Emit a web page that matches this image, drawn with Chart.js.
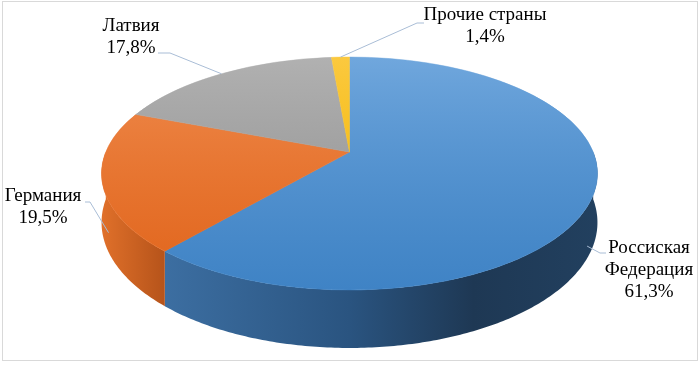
<!DOCTYPE html>
<html><head><meta charset="utf-8">
<script src="https://cdn.jsdelivr.net/npm/chart.js@4/dist/chart.umd.min.js"></script>
<style>html,body{margin:0;padding:0;background:#fff;overflow:hidden}#wrap{position:relative;width:699px;height:365px}</style>
</head><body><div id="wrap"><canvas id="c" width="699" height="365"></canvas></div>
<script>
// ---- data ----
const categories = ['Россиская Федерация', 'Германия', 'Латвия', 'Прочие страны'];
const labelLines = [['Россиская', 'Федерация'], ['Германия'], ['Латвия'], ['Прочие страны']];
const shares = [61.3, 19.5, 17.8, 1.4];
const shareLabels = ['61,3%', '19,5%', '17,8%', '1,4%'];

// ---- styles ----
const topColors = [['#70a7dd', '#3f83c5'], ['#f08d50', '#e1651c'], ['#b1b1b1', '#929292'], ['#fbc93f', '#f2b500']];
const sideStops = [
  [[0, '#4276aa'], [0.13, '#3c6ea1'], [0.5, '#2a5480'], [0.75, '#1e3854'], [1, '#22405f']],
  [[0, '#e0702a'], [0.13, '#b5531a'], [1, '#b5531a']],
  [[0, '#7a7a7a'], [1, '#7a7a7a']],
  [[0, '#c79000'], [1, '#c79000']]
];
// perspective geometry of the 3D pie (screen px)
const GEO = { cx: 349.5, cy: 152, p: 112.5, q: -0.1845, r: 243.7, d: 47.3 };
const labelCfg = [
  { x: 649, y: 248, elbow: [[606, 253], [600, 253]], side: true },
  { x: 43, y: 196, elbow: [[85, 202], [90, 202]], side: true },
  { x: 131, y: 26, elbow: [[158, 53], [170, 53]], side: false },
  { x: 485, y: 15, elbow: [[424, 23], [417, 23]], side: false }
];
const LINE_H = 21.8;

function proj(u, v) {
  const k = 1 / (1 + GEO.q * v);
  return { x: GEO.cx + GEO.r * u * k, y: GEO.cy + GEO.p * v * k, k };
}
function localGeom(chart) {
  const a = chart.chartArea;
  return { x0: (a.left + a.right) / 2, y0: (a.top + a.bottom) / 2, r0: Math.min(a.right - a.left, a.bottom - a.top) / 2 };
}

const pie3d = {
  id: 'pie3d',
  beforeDatasetsDraw(chart) {
    const ctx = chart.ctx;
    const meta = chart.getDatasetMeta(0);
    // side walls
    meta.data.forEach((arc, i) => {
      const a1 = Math.max(arc.startAngle, 0), a2 = Math.min(arc.endAngle, Math.PI);
      if (a2 <= a1) return;
      const n = Math.max(8, Math.ceil((a2 - a1) * 80));
      const top = [], bot = [];
      for (let j = 0; j <= n; j++) {
        const a = a1 + (a2 - a1) * j / n;
        const P = proj(Math.cos(a), Math.sin(a));
        top.push([P.x, P.y]);
        bot.push([P.x, P.y + GEO.d * P.k]);
      }
      const g = ctx.createLinearGradient(GEO.cx - 248, 0, GEO.cx + 248, 0);
      sideStops[i].forEach(([s, c]) => g.addColorStop(s, c));
      ctx.save();
      ctx.beginPath();
      top.forEach((pt, j) => j ? ctx.lineTo(pt[0], pt[1]) : ctx.moveTo(pt[0], pt[1]));
      for (let j = bot.length - 1; j >= 0; j--) ctx.lineTo(bot[j][0], bot[j][1]);
      ctx.closePath();
      ctx.fillStyle = g;
      ctx.fill();
      ctx.restore();
    });
    // top face: library arcs drawn row by row with a perspective-approximating transform
    const arc0 = meta.data[0];
    const x0 = arc0.x, y0 = arc0.y, R0 = arc0.outerRadius;
    const yTop = Math.floor(GEO.cy - GEO.p / (1 - GEO.q)) - 1;
    const yBot = Math.ceil(GEO.cy + GEO.p / (1 + GEO.q)) + 1;
    for (let Y = yTop; Y <= yBot; Y++) {
      const t = Y + 0.5 - GEO.cy;
      let v = t / (GEO.p - GEO.q * t);
      v = Math.max(-1, Math.min(1, v));
      const k = 1 / (1 + GEO.q * v);
      const sx = GEO.r * k / R0;
      const sy = GEO.p * k * k / R0;
      const Yc = GEO.cy + GEO.p * v * k;
      ctx.save();
      ctx.setTransform(1, 0, 0, 1, 0, 0);
      ctx.beginPath();
      ctx.rect(0, Y, chart.width, 1);
      ctx.clip();
      ctx.setTransform(sx, 0, 0, sy, GEO.cx - sx * x0, Yc - sy * (y0 + v * R0));
      meta.data.forEach(a => a.draw(ctx));
      ctx.restore();
    }
    return false;
  },
  afterDraw(chart) {
    const ctx = chart.ctx;
    const meta = chart.getDatasetMeta(0);
    ctx.save();
    ctx.setTransform(1, 0, 0, 1, 0, 0);
    ctx.strokeStyle = '#d9d9d9';
    ctx.lineWidth = 1;
    ctx.strokeRect(2.5, 1.5, 695, 359);
    meta.data.forEach((arc, i) => {
      const mid = (arc.startAngle + arc.endAngle) / 2;
      const cfg = labelCfg[i];
      const f = cfg.side ? 0.975 : 1;
      const P = proj(Math.cos(mid) * f, Math.sin(mid) * f);
      const px = P.x, py = P.y + (cfg.side ? GEO.d * P.k + 3 : 0);
      ctx.strokeStyle = '#a9bdd6';
      ctx.lineWidth = 1;
      ctx.beginPath();
      ctx.moveTo(cfg.elbow[0][0], cfg.elbow[0][1]);
      ctx.lineTo(cfg.elbow[1][0], cfg.elbow[1][1]);
      ctx.lineTo(px, py);
      ctx.stroke();
      const lines = labelLines[i].concat([shareLabels[i]]);
      ctx.fillStyle = '#000';
      ctx.font = '19px "Liberation Serif", "Times New Roman", serif';
      ctx.textAlign = 'center';
      ctx.textBaseline = 'middle';
      lines.forEach((t, k) => ctx.fillText(t, cfg.x, cfg.y + k * LINE_H));
    });
    ctx.restore();
  }
};

function topGradient(c) {
  const chart = c.chart;
  const i = c.dataIndex;
  if (!chart.chartArea || i === undefined) return topColors[i || 0][0];
  const g0 = localGeom(chart);
  const g = chart.ctx.createLinearGradient(0, g0.y0 - g0.r0, 0, g0.y0 + g0.r0);
  g.addColorStop(0, topColors[i][0]);
  g.addColorStop(1, topColors[i][1]);
  return g;
}

new Chart(document.getElementById('c'), {
  type: 'pie',
  data: {
    labels: categories,
    datasets: [{
      data: shares,
      borderWidth: 0.6,
      borderColor: topGradient,
      backgroundColor: topGradient,
      clip: false
    }]
  },
  options: {
    responsive: false,
    devicePixelRatio: 1,
    animation: false,
    events: [],
    plugins: { legend: { display: false }, tooltip: { enabled: false } }
  },
  plugins: [pie3d]
});
</script></body></html>
